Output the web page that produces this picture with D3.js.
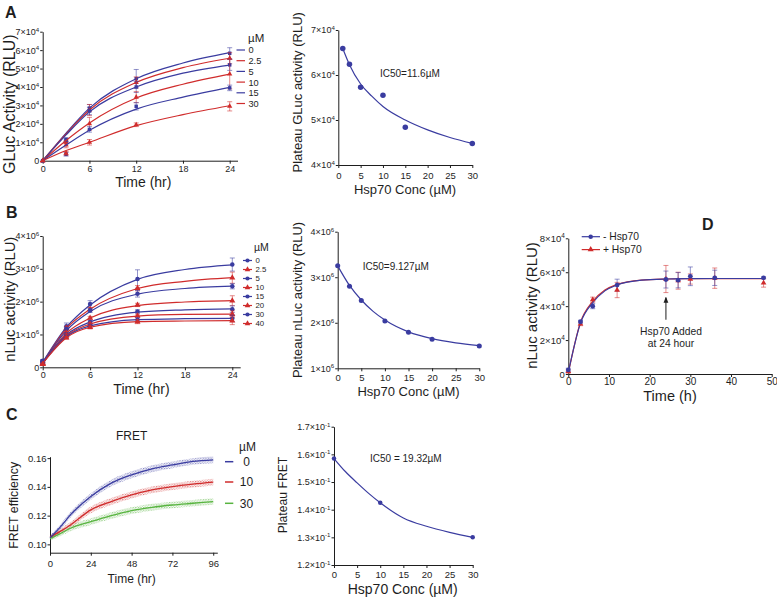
<!DOCTYPE html>
<html>
<head>
<meta charset="utf-8">
<script src="https://cdnjs.cloudflare.com/ajax/libs/d3/7.8.5/d3.min.js"></script>
<style>
  body { margin: 0; background: #fff; }
  svg { font-family: "Liberation Sans", Arial, sans-serif; }
</style>
</head>
<body>
<svg id="fig" width="777" height="597"></svg>
<script>
// ---------------- data ----------------
// A (left): GLuc activity time course, one row per Hsp70 conc
var concA = ["0", "2.5", "5", "10", "15", "30"];
var timeA = [0, 3, 6, 12, 24];
var gLucMean = [
  [0, 11500, 28500, 44500, 58300],
  [0, 10000, 27500, 42500, 55600],
  [0, 11000, 27000, 40000, 52000],
  [0, 8500, 20000, 34500, 47000],
  [0, 3500, 17000, 29500, 39500],
  [0, 4000, 10000, 19500, 29500]
];
var gLucErr = [
  [0, 1000, 2000, 5000, 3000],
  [0, 800, 3000, 3000, 3000],
  [0, 800, 2000, 3000, 3000],
  [0, 1500, 3500, 3000, 8000],
  [0, 1000, 1500, 2000, 1500],
  [0, 1000, 1500, 1000, 2500]
];
var fitTimeA = [0, 3, 6, 12, 18, 24];
var gLucFit = [
  [0, 15000, 28500, 44500, 53000, 58600],
  [0, 14500, 27500, 42500, 50500, 55600],
  [0, 14000, 26500, 40000, 47500, 51900],
  [0, 11000, 20500, 34000, 41500, 47000],
  [0, 8500, 16500, 28000, 34500, 39800],
  [0, 5500, 10000, 19000, 25000, 29800]
];
var timeTicksA = [0, 6, 12, 18, 24];
var gLucTicks = [0, 10000, 20000, 30000, 40000, 50000, 60000, 70000];

// A (right): plateau vs conc
var hspConcA = [1, 2.5, 5, 10, 15, 30];
var plateauA = [65900, 62400, 57300, 55500, 48400, 44800];
var fitConcA = [1, 2.5, 5, 7.5, 10, 15, 20, 25, 30];
var plateauFitA = [65900, 62300, 58000, 55300, 53000, 50000, 47800, 46100, 44800];
var concTicks = [0, 5, 10, 15, 20, 25, 30];
var plateauTicksA = [40000, 50000, 60000, 70000];

// B (left): nLuc activity time course
var concB = ["0", "2.5", "5", "10", "15", "20", "30", "40"];
var timeB = [0, 3, 6, 12, 24];
var nLucMean = [
  [180000, 1250000, 1930000, 2690000, 3130000],
  [120000, 1200000, 1770000, 2410000, 2730000],
  [200000, 1170000, 1730000, 2240000, 2470000],
  [100000, 1050000, 1500000, 1900000, 2030000],
  [180000, 1000000, 1380000, 1700000, 1770000],
  [100000, 970000, 1320000, 1570000, 1620000],
  [150000, 930000, 1260000, 1450000, 1490000],
  [100000, 900000, 1220000, 1390000, 1420000]
];
var nLucErr = [
  [50000, 100000, 100000, 280000, 200000],
  [30000, 50000, 50000, 80000, 170000],
  [30000, 50000, 60000, 100000, 80000],
  [30000, 50000, 50000, 50000, 150000],
  [30000, 50000, 50000, 50000, 100000],
  [30000, 40000, 50000, 50000, 100000],
  [30000, 40000, 50000, 60000, 100000],
  [30000, 40000, 50000, 60000, 120000]
];
var fitTimeB = [0, 3, 6, 12, 18, 24];
var nLucFit = [
  [150000, 1220000, 1900000, 2680000, 2980000, 3120000],
  [130000, 1180000, 1770000, 2400000, 2620000, 2730000],
  [150000, 1120000, 1700000, 2230000, 2400000, 2470000],
  [120000, 1040000, 1500000, 1880000, 1990000, 2030000],
  [140000, 990000, 1380000, 1680000, 1750000, 1780000],
  [120000, 960000, 1320000, 1560000, 1610000, 1620000],
  [130000, 930000, 1260000, 1450000, 1480000, 1490000],
  [120000, 900000, 1220000, 1390000, 1410000, 1420000]
];
var nLucTicks = [0, 1000000, 2000000, 3000000, 4000000];

// B (right)
var hspConcB = [0, 2.5, 5, 10, 15, 20, 30];
var plateauB = [3250000, 2800000, 2490000, 2040000, 1790000, 1640000, 1490000];
var fitConcB = [0, 2.5, 5, 7.5, 10, 15, 20, 25, 30];
var plateauFitB = [3250000, 2820000, 2500000, 2250000, 2060000, 1800000, 1650000, 1560000, 1500000];
var plateauTicksB = [1000000, 2000000, 3000000, 4000000];

// C (left): FRET time course, fitted line and spread of the raw points
var concC = ["0", "10", "30"];
var fretTime = [0, 6, 12, 24, 36, 48, 60, 72, 84, 96];
var fret0 = [0.1045, 0.112, 0.1205, 0.1333, 0.1426, 0.1484, 0.1526, 0.1553, 0.1577, 0.1588];
var fret10 = [0.105, 0.109, 0.1135, 0.124, 0.1298, 0.1344, 0.1379, 0.1402, 0.1419, 0.1433];
var fret30 = [0.104, 0.1075, 0.1112, 0.1158, 0.12, 0.1235, 0.1258, 0.1274, 0.1286, 0.1298];
var fretSpread = [0.0015, 0.0018, 0.002, 0.0023, 0.0024, 0.0024, 0.0024, 0.0023, 0.0023, 0.0023];
var fretTimeTicks = [0, 24, 48, 72, 96];
var fretTicks = [0.10, 0.12, 0.14, 0.16];

// C (right)
var hspConcC = [0, 10, 30];
var plateauC = [0.1585, 0.1425, 0.130];
var fitConcC = [0, 2.5, 5, 7.5, 10, 15, 20, 25, 30];
var plateauFitC = [0.1585, 0.1537, 0.1497, 0.1459, 0.1425, 0.137, 0.134, 0.1318, 0.130];
var plateauTicksC = [0.12, 0.13, 0.14, 0.15, 0.16, 0.17];

// D: with / without Hsp70 added at 24 h
var timeD = [0, 3, 6, 12, 24, 27, 30, 36, 48];
var minusHsp = [2400, 30800, 40000, 52400, 55700, 55300, 57600, 56700, 56700];
var minusErr = [1000, 800, 1500, 3500, 5000, 4500, 5500, 4500, 500];
var plusHsp = [1500, 29500, 43800, 49500, 56000, 55000, 56000, 56500, 53700];
var plusErr = [1000, 1000, 1500, 4500, 8000, 5000, 3000, 6000, 2500];
var fitTimeD = [0, 3, 6, 9, 12, 18, 24, 30, 36, 48];
var minusFit = [1000, 30000, 42000, 49000, 52500, 55300, 56000, 56200, 56300, 56300];
var plusFit = [500, 30500, 42800, 49500, 52800, 55400, 56000, 56200, 56200, 56200];
var timeTicksD = [0, 10, 20, 30, 40, 50];
var nLucTicksD = [0, 20000, 40000, 60000, 80000];

// ---------------- drawing ----------------
var blue = "#3a3ca0", red = "#d02c2c", green = "#58b440", ink = "#1e1e1e";
var svg = d3.select("#fig");
svg.append("rect").attr("width", 777).attr("height", 597).attr("fill", "#fff");

// tick label like 7x10^4
function sci(exp) {
  return function(text, v) {
    text.text(null);
    if (v === 0) { text.text("0"); return; }
    var m = Math.round(v / Math.pow(10, exp) * 10) / 10;
    text.append("tspan").text(m + "×10");
    text.append("tspan").attr("dy", "-0.55em").attr("font-size", "0.68em").text(exp);
  };
}

function panel(c) {
  var x = d3.scaleLinear().domain(c.xDomain).range(c.xRange);
  var y = d3.scaleLinear().domain(c.yDomain).range(c.yRange);
  var gx = svg.append("g")
    .attr("transform", "translate(0," + c.yRange[0] + ")")
    .call(d3.axisBottom(x).tickValues(c.xTicks).tickSize(3).tickSizeOuter(0)
      .tickPadding(c.xPad).tickFormat(d3.format("d")));
  var gy = svg.append("g")
    .attr("transform", "translate(" + c.xRange[0] + ",0)")
    .call(d3.axisLeft(y).tickValues(c.yTicks).tickSize(2.5).tickSizeOuter(0)
      .tickPadding(1).tickFormat(c.yFormat || null));
  gx.attr("font-size", c.xFont || 9).attr("font-family", null);
  gy.attr("font-size", c.yFont || 9).attr("font-family", null);
  if (c.yLabel) {
    gy.selectAll(".tick text").each(function(d) { c.yLabel(d3.select(this), d); });
  }
  [gx, gy].forEach(function(g) {
    g.select(".domain").attr("stroke", ink);
    g.selectAll(".tick line").attr("stroke", ink);
    g.selectAll(".tick text").attr("fill", ink);
  });
  return { x: x, y: y };
}

function text(txt, x, y, size, anchor, weight) {
  return svg.append("text").attr("x", x).attr("y", y).attr("font-size", size)
    .attr("text-anchor", anchor || "start").attr("font-weight", weight || "normal")
    .attr("fill", ink).text(txt);
}

function vtext(txt, cx, cy, size) {
  svg.append("text").attr("transform", "translate(" + cx + "," + cy + ") rotate(-90)")
    .attr("text-anchor", "middle").attr("dy", "0.35em").attr("font-size", size)
    .attr("fill", ink).text(txt);
}

function errorBars(p, xs, ys, es, col, cap, op) {
  var g = svg.append("g").attr("stroke", col).attr("stroke-opacity", op || 0.55).attr("stroke-width", 1);
  xs.forEach(function(t, j) {
    if (!es[j]) return;
    var cx = p.x(t), y0 = p.y(ys[j] - es[j]), y1 = p.y(ys[j] + es[j]);
    g.append("line").attr("x1", cx).attr("x2", cx).attr("y1", y0).attr("y2", y1);
    g.append("line").attr("x1", cx - cap).attr("x2", cx + cap).attr("y1", y0).attr("y2", y0);
    g.append("line").attr("x1", cx - cap).attr("x2", cx + cap).attr("y1", y1).attr("y2", y1);
  });
}

function fitLine(p, xs, ys, col, w) {
  var line = d3.line().x(function(d) { return p.x(d[0]); }).y(function(d) { return p.y(d[1]); })
    .curve(d3.curveMonotoneX);
  svg.append("path").datum(xs.map(function(t, j) { return [t, ys[j]]; }))
    .attr("fill", "none").attr("stroke", col).attr("stroke-width", w || 1.2).attr("d", line);
}

function markers(p, xs, ys, col, shape, size) {
  svg.append("g").selectAll("path").data(xs).enter().append("path")
    .attr("d", d3.symbol().type(shape).size(size))
    .attr("transform", function(t, j) { return "translate(" + p.x(t) + "," + p.y(ys[j]) + ")"; })
    .attr("fill", col);
}

// ---------- A left ----------
var pA = panel({ xDomain: [0, 25], xRange: [42.7, 237.5], yDomain: [0, 70000], yRange: [160.7, 31.7],
  xTicks: timeTicksA, yTicks: gLucTicks, yLabel: sci(4), xPad: 1.5 });
concA.forEach(function(c, i) {
  var col = i % 2 === 0 ? blue : red;
  var shape = i % 2 === 0 ? d3.symbolSquare : d3.symbolTriangle;
  errorBars(pA, timeA, gLucMean[i], gLucErr[i], col, 2.5);
  fitLine(pA, fitTimeA, gLucFit[i], col, 1.2);
  markers(pA, timeA, gLucMean[i], col, shape, 12);
  var ly = 50 + i * 10.7;
  svg.append("line").attr("x1", 236.5).attr("x2", 245).attr("y1", ly).attr("y2", ly)
    .attr("stroke", col).attr("stroke-width", 1.2);
  text(c, 248.5, ly + 3.4, 9.2);
});
text("µM", 248, 41.5, 11.5);
text("A", 5, 18.3, 16, "start", "bold");
vtext("GLuc Activity (RLU)", 9, 104.2, 16);
text("Time (hr)", 143.3, 187, 14, "middle");

// ---------- A right ----------
var pA2 = panel({ xDomain: [0, 30], xRange: [338.3, 472.3], yDomain: [40000, 70000], yRange: [165, 30],
  xTicks: concTicks, yTicks: plateauTicksA, yLabel: sci(4), xPad: 4.5, xFont: 9.5 });
fitLine(pA2, fitConcA, plateauFitA, blue, 1.2);
markers(pA2, hspConcA, plateauA, blue, d3.symbolCircle, 24);
text("IC50=11.6µM", 380, 76.5, 10);
vtext("Plateau GLuc activity (RLU)", 297.5, 92.3, 13);
text("Hsp70 Conc (µM)", 405, 194, 13, "middle");

// ---------- B left ----------
var pB = panel({ xDomain: [0, 25], xRange: [42.7, 240.2], yDomain: [0, 4000000], yRange: [367.3, 236],
  xTicks: timeTicksA, yTicks: nLucTicks, yLabel: sci(6), xPad: 1 });
concB.forEach(function(c, i) {
  var col = i % 2 === 0 ? blue : red;
  var shape = i % 2 === 0 ? d3.symbolCircle : d3.symbolTriangle;
  errorBars(pB, timeB, nLucMean[i], nLucErr[i], col, 2.5);
  fitLine(pB, fitTimeB, nLucFit[i], col, 1.2);
  markers(pB, timeB, nLucMean[i], col, shape, 16);
  var ly = 260.5 + i * 9;
  svg.append("line").attr("x1", 243).attr("x2", 252).attr("y1", ly).attr("y2", ly)
    .attr("stroke", col).attr("stroke-width", 1.2);
  svg.append("path").attr("d", d3.symbol().type(shape).size(14)())
    .attr("transform", "translate(247.5," + ly + ")").attr("fill", col);
  text(c, 255.5, ly + 2.9, 7.8);
});
text("µM", 254, 251, 10.5);
text("B", 6, 218.3, 16, "start", "bold");
vtext("nLuc activity (RLU)", 9.5, 299.2, 14.8);
text("Time (hr)", 141.5, 393.5, 14, "middle");

// ---------- B right ----------
var pB2 = panel({ xDomain: [0, 30], xRange: [337.7, 479.3], yDomain: [1000000, 4000000], yRange: [368.3, 231.7],
  xTicks: concTicks, yTicks: plateauTicksB, yLabel: sci(6), xPad: 2.5, xFont: 9.5 });
fitLine(pB2, fitConcB, plateauFitB, blue, 1.2);
markers(pB2, hspConcB, plateauB, blue, d3.symbolCircle, 20);
text("IC50=9.127µM", 362.7, 269.5, 10);
vtext("Plateau nLuc activity (RLU)", 297.5, 300, 12.9);
text("Hsp70 Conc (µM)", 408.5, 396, 13, "middle");

// ---------- C left ----------
var pC = panel({ xDomain: [0, 98.4], xRange: [50, 217.3], yDomain: [0.0942, 0.161], yRange: [552.7, 456.7],
  xTicks: fretTimeTicks, yTicks: fretTicks, yFormat: d3.format(".2f"), xPad: 5, xFont: 9.5, yFont: 9.5 });
var defs = svg.append("defs");
[["dotBlue", blue], ["dotRed", red], ["dotGreen", green]].forEach(function(d) {
  var pat = defs.append("pattern").attr("id", d[0]).attr("width", 2.6).attr("height", 2.6)
    .attr("patternUnits", "userSpaceOnUse");
  pat.append("circle").attr("cx", 0.7).attr("cy", 0.7).attr("r", 0.65).attr("fill", d[1]);
  pat.append("circle").attr("cx", 2.0).attr("cy", 1.9).attr("r", 0.55).attr("fill", d[1]).attr("opacity", 0.7);
});
var fretSeries = [[fret30, green, "dotGreen"], [fret10, red, "dotRed"], [fret0, blue, "dotBlue"]];
fretSeries.forEach(function(s) {
  var area = d3.area().x(function(t) { return pC.x(t); })
    .y0(function(t, j) { return pC.y(s[0][j] - fretSpread[j]); })
    .y1(function(t, j) { return pC.y(s[0][j] + fretSpread[j]); })
    .curve(d3.curveMonotoneX);
  svg.append("path").datum(fretTime).attr("d", area).attr("fill", "url(#" + s[2] + ")").attr("opacity", 0.85);
});
fretSeries.forEach(function(s) { fitLine(pC, fretTime, s[0], s[1], 1.3); });
[fret0, fret10, fret30].forEach(function(s, i) {
  var ly = [461.7, 482, 503.3][i];
  var col = [blue, red, green][i];
  svg.append("line").attr("x1", 225).attr("x2", 233.3).attr("y1", ly).attr("y2", ly)
    .attr("stroke", col).attr("stroke-width", 1.5);
  text(concC[i], 246.5, ly + 4.3, 12, "middle");
});
text("µM", 247.5, 450.7, 12, "middle");
text("C", 6, 420, 16, "start", "bold");
text("FRET", 131.7, 439.5, 12, "middle");
vtext("FRET efficiency", 13.3, 505.3, 12.4);
text("Time (hr)", 131.7, 582.5, 12, "middle");

// ---------- C right ----------
var pC2 = panel({ xDomain: [0, 30], xRange: [334, 472.7], yDomain: [0.12, 0.17], yRange: [565, 426.7],
  xTicks: concTicks, yTicks: plateauTicksC, yLabel: sci(-1), xPad: 3, xFont: 9.5 });
fitLine(pC2, fitConcC, plateauFitC, blue, 1.2);
markers(pC2, hspConcC, plateauC, blue, d3.symbolCircle, 16);
text("IC50 = 19.32µM", 370, 462, 10);
vtext("Plateau FRET", 282.5, 495, 12.2);
text("Hsp70 Conc (µM)", 402.7, 594, 14, "middle");

// ---------- D ----------
var pD = panel({ xDomain: [0, 50], xRange: [568.3, 771.7], yDomain: [0, 80000], yRange: [374, 238.3],
  xTicks: timeTicksD, yTicks: nLucTicksD, yLabel: sci(4), xPad: 1, xFont: 10, yFont: 9.5 });
errorBars(pD, timeD, plusHsp, plusErr, red, 2.5);
errorBars(pD, timeD, minusHsp, minusErr, blue, 2.5);
fitLine(pD, fitTimeD, plusFit, red, 1.2);
fitLine(pD, fitTimeD, minusFit, blue, 1.2);
markers(pD, timeD, plusHsp, red, d3.symbolTriangle, 14);
markers(pD, timeD, minusHsp, blue, d3.symbolCircle, 18);
[["- Hsp70", blue, d3.symbolCircle, 236.7], ["+ Hsp70", red, d3.symbolTriangle, 249.6]].forEach(function(l) {
  svg.append("line").attr("x1", 581.7).attr("x2", 600).attr("y1", l[3]).attr("y2", l[3])
    .attr("stroke", l[1]).attr("stroke-width", 1.2);
  svg.append("path").attr("d", d3.symbol().type(l[2]).size(16)())
    .attr("transform", "translate(590.7," + l[3] + ")").attr("fill", l[1]);
  text(l[0], 603, l[3] + 3.6, 10.3);
});
defs.append("marker").attr("id", "arrow").attr("viewBox", "0 0 6 6").attr("refX", 5).attr("refY", 3)
  .attr("markerWidth", 6).attr("markerHeight", 6).attr("orient", "auto")
  .append("path").attr("d", "M0,0.6L6,3L0,5.4Z").attr("fill", ink);
svg.append("line").attr("x1", pD.x(24)).attr("x2", pD.x(24)).attr("y1", pD.y(32000)).attr("y2", pD.y(45000))
  .attr("stroke", ink).attr("stroke-width", 1).attr("marker-end", "url(#arrow)");
text("Hsp70 Added", 671, 334.5, 10.3, "middle");
text("at 24 hour", 671, 346.6, 10.3, "middle");
text("D", 702, 230, 16, "start", "bold");
vtext("nLuc activity (RLU)", 531.5, 305.5, 15);
text("Time (h)", 670, 401, 14.5, "middle");
</script>
</body>
</html>
